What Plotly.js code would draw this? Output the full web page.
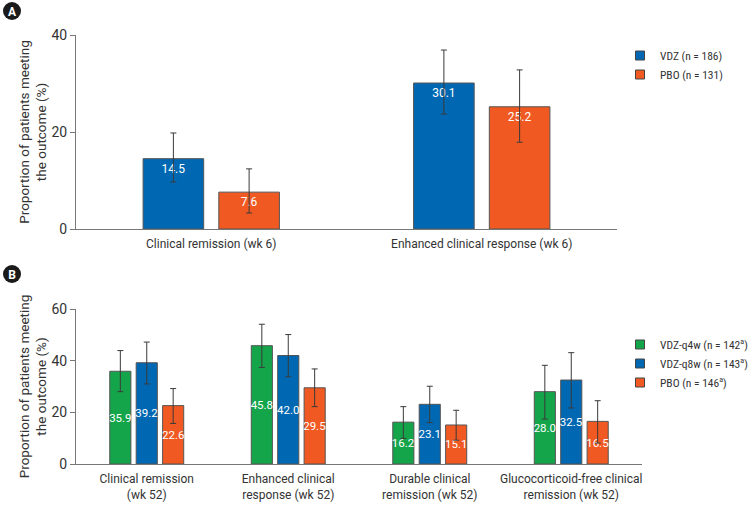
<!DOCTYPE html>
<html>
<head>
<meta charset="utf-8">
<script src="https://cdn.plot.ly/plotly-3.0.1.min.js"></script>
<style>
  html, body { margin: 0; padding: 0; background: #fff; }
  #chart { width: 754px; height: 507px; }
</style>
</head>
<body>
<div id="chart"></div>
<script>
// Panel A: week 6
const catsA = ["Clinical remission (wk 6)", "Enhanced clinical response (wk 6)"];
const vdzA = [14.5, 30.1];
const vdzA_hi = [19.8, 36.9];
const vdzA_lo = [9.7, 23.7];
const pboA = [7.6, 25.2];
const pboA_hi = [12.4, 32.8];
const pboA_lo = [3.3, 17.9];

// Panel B: week 52
const catsB = [
    "Clinical remission<br>(wk 52)",
    "Enhanced clinical<br>response (wk 52)",
    "Durable clinical<br>remission (wk 52)",
    "Glucocorticoid-free clinical<br>remission (wk 52)"
];
const q4wB = [35.9, 45.8, 16.2, 28.0];
const q4wB_hi = [43.9, 54.1, 22.2, 38.2];
const q4wB_lo = [28.0, 37.4, 9.9, 17.4];
const q8wB = [39.2, 42.0, 23.1, 32.5];
const q8wB_hi = [47.2, 50.1, 30.1, 43.1];
const q8wB_lo = [31.0, 33.8, 16.0, 21.7];
const pboB = [22.6, 29.5, 15.1, 16.5];
const pboB_hi = [29.2, 36.8, 20.8, 24.5];
const pboB_lo = [15.7, 22.2, 9.2, 8.1];

const ticksA = [0, 20, 40];
const ticksB = [0, 20, 40, 60];

const GREEN = "#14a54b";
const BLUE = "#0068b3";
const ORANGE = "#f05a22";
const FONT = "Roboto, 'Liberation Sans', sans-serif";
const NARROW = "'Liberation Sans Narrow', 'Roboto Condensed', Roboto, sans-serif";

function bar(x, y, hi, lo, color, xa, ya, anchor, fs) {
    return {
        type: "bar", x: x, y: y, showlegend: false,
        xaxis: xa, yaxis: ya,
        marker: {color: color, line: {color: "#555", width: 1}},
        text: y.map(v => v.toFixed(1)),
        textposition: "inside",
        insidetextanchor: anchor,
        constraintext: "none",
        textangle: 0,
        textfont: {color: "#fff", size: fs, family: FONT},
        error_y: {
            type: "data", symmetric: false,
            array: hi.map((h, i) => h - y[i]),
            arrayminus: lo.map((l, i) => y[i] - l),
            color: "#3a3a3a", thickness: 1, width: 3
        },
        hoverinfo: "skip"
    };
}

// legend-only entries with small square swatches
function key(name, color, xa, ya, legend) {
    return {
        type: "scatter", mode: "markers", x: [null], y: [null], name: name,
        xaxis: xa, yaxis: ya, legend: legend,
        marker: {symbol: "square", size: 9, color: color, line: {color: "#444", width: 1}}
    };
}

var data = [
    bar(catsA, vdzA, vdzA_hi, vdzA_lo, BLUE, "x", "y", "end", 12),
    bar(catsA, pboA, pboA_hi, pboA_lo, ORANGE, "x", "y", "end", 12),
    bar(catsB, q4wB, q4wB_hi, q4wB_lo, GREEN, "x2", "y2", "middle", 11.5),
    bar(catsB, q8wB, q8wB_hi, q8wB_lo, BLUE, "x2", "y2", "middle", 11.5),
    bar(catsB, pboB, pboB_hi, pboB_lo, ORANGE, "x2", "y2", "middle", 11.5),
    key("VDZ (n = 186)", BLUE, "x", "y", "legend"),
    key("PBO (n = 131)", ORANGE, "x", "y", "legend"),
    key("VDZ-q4w (n = 142<sup>a</sup>)", GREEN, "x2", "y2", "legend2"),
    key("VDZ-q8w (n = 143<sup>a</sup>)", BLUE, "x2", "y2", "legend2"),
    key("PBO (n = 146<sup>a</sup>)", ORANGE, "x2", "y2", "legend2")
];

const yTitle = "Proportion of patients meeting<br>the outcome (%)";
const axisCommon = {
    showgrid: false, zeroline: false, showline: true, automargin: false,
    linecolor: "#777", linewidth: 1,
    tickfont: {size: 14, color: "#333", family: FONT}
};
const xCommon = Object.assign({}, axisCommon, {
    ticks: "", ticklabelstandoff: 4,
    tickfont: {size: 12, color: "#333", family: FONT}
});
const yCommon = Object.assign({}, axisCommon, {
    ticks: "outside", ticklen: 5, tickcolor: "#777",
    title: {text: yTitle, font: {size: 13.5, color: "#333"}}
});

var layout = {
    width: 754, height: 507,
    margin: {l: 0, r: 0, t: 0, b: 0, autoexpand: false},
    paper_bgcolor: "#fff", plot_bgcolor: "#fff",
    font: {family: FONT, color: "#333"},
    barmode: "group",
    bargap: 0.44, bargroupgap: 0.2,
    showlegend: true,
    xaxis: Object.assign({}, xCommon, {domain: [76 / 754, 617 / 754], anchor: "y"}),
    yaxis: Object.assign({}, yCommon, {
        domain: [1 - 229 / 507, 1 - 35 / 507], anchor: "x",
        range: [0, 40], tickvals: ticksA
    }),
    xaxis2: Object.assign({}, xCommon, {domain: [76 / 754, 642 / 754], anchor: "y2"}),
    yaxis2: Object.assign({}, yCommon, {
        domain: [1 - 464 / 507, 1 - 309 / 507], anchor: "x2",
        range: [0, 60], tickvals: ticksB
    }),
    legend: {
        x: 620 / 754, y: 1 - 41 / 507, xanchor: "left", yanchor: "top",
        font: {size: 11.5, color: "#333", family: NARROW},
        itemwidth: 30, tracegroupgap: 0, bgcolor: "rgba(0,0,0,0)"
    },
    legend2: {
        x: 620 / 754, y: 1 - 330 / 507, xanchor: "left", yanchor: "top",
        font: {size: 11.5, color: "#333", family: NARROW},
        itemwidth: 30, tracegroupgap: 0, bgcolor: "rgba(0,0,0,0)"
    },
    shapes: [
        {type: "circle", xref: "paper", yref: "paper",
         x0: 3 / 754, x1: 21 / 754, y0: 1 - 20 / 507, y1: 1 - 2 / 507,
         fillcolor: "#1a1a1a", line: {width: 0},
         label: {text: "<b>A</b>", font: {size: 12, color: "#fff", family: FONT}, textposition: "middle center"}},
        {type: "circle", xref: "paper", yref: "paper",
         x0: 3 / 754, x1: 21 / 754, y0: 1 - 283 / 507, y1: 1 - 265 / 507,
         fillcolor: "#1a1a1a", line: {width: 0},
         label: {text: "<b>B</b>", font: {size: 12, color: "#fff", family: FONT}, textposition: "middle center"}}
    ]
};

Plotly.newPlot("chart", data, layout, {displayModeBar: false, staticPlot: true});
</script>
</body>
</html>
